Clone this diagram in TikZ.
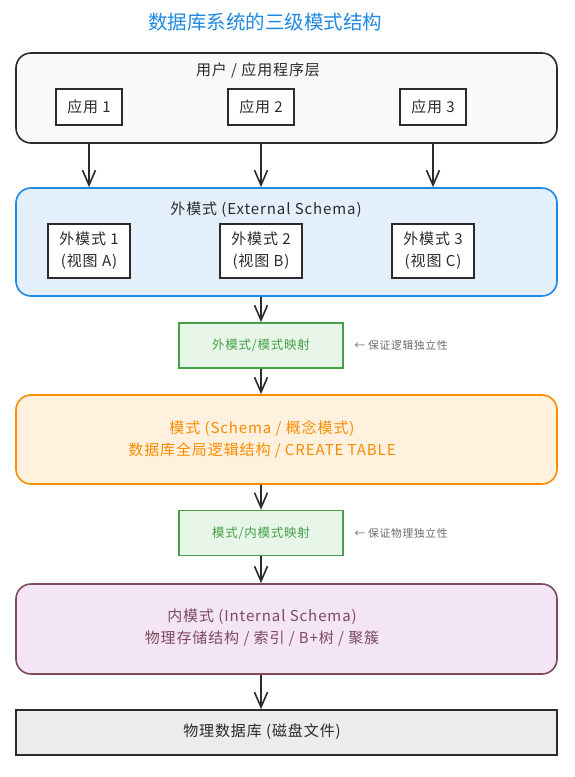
\documentclass[tikz,border=0pt]{standalone}
\usepackage{fontspec}
\setmainfont[LetterSpace=6]{Noto Sans CJK SC}
\newfontfamily\titlefont{Noto Sans CJK SC}
\usetikzlibrary{positioning}
\usetikzlibrary{arrows.meta}

\definecolor{inkdark}{HTML}{2B2B2B}
\definecolor{titleblue}{HTML}{1E88E5}
\definecolor{extblue}{HTML}{1E88E5}
\definecolor{extfill}{HTML}{E3F0FC}
\definecolor{mapgreen}{HTML}{43A047}
\definecolor{mapfill}{HTML}{E8F5E9}
\definecolor{conorange}{HTML}{FB8C00}
\definecolor{confill}{HTML}{FFF1DE}
\definecolor{intmauve}{HTML}{7D4A5E}
\definecolor{intfill}{HTML}{F3E5F5}
\definecolor{topfill}{HTML}{F8F9FA}
\definecolor{physfill}{HTML}{ECECEC}
\definecolor{notegray}{HTML}{6B6B6B}

\tikzset{
  layer/.style={draw, line width=1.6pt, rounded corners=15pt, minimum width=541pt, inner sep=0pt},
  smallbox/.style={draw=inkdark, fill=white, line width=1.6pt, inner sep=0pt, text=inkdark},
  mapbox/.style={draw=mapgreen, fill=mapfill, line width=1.6pt, minimum width=164pt, minimum height=45pt, inner sep=0pt, text=mapgreen, font=\fontsize{12.5}{15}\selectfont},
  note/.style={text=notegray, font=\fontsize{10.8}{13}\selectfont, anchor=west},
  flow/.style={draw=inkdark, line width=1.6pt, -{Straight Barb[length=15pt,width=13pt]}},
}

\begin{document}
\begin{tikzpicture}[x=1pt, y=-1pt, font=\fontsize{15}{22}\selectfont]
    \useasboundingbox (0,0) rectangle (574,777);
    % title
    \node[text=titleblue, font=\titlefont\fontsize{19.5}{24}\selectfont] (title) at (265,22) {数据库系统的三级模式结构};

    % user / application layer
    \node[layer, draw=inkdark, fill=topfill, minimum height=90pt] (user) at (286.5,98) {};
    \node[text=inkdark] (userlbl) at (258,70) {用户 / 应用程序层};
    \node[smallbox, minimum width=66pt, minimum height=36pt] (app2) at (261,107) {应用 2};
    \node[smallbox, minimum width=66pt, minimum height=36pt] (app1) at (89,107) {应用 1};
    \node[smallbox, minimum width=66pt, minimum height=36pt] (app3) at (433,107) {应用 3};

    % external schema
    \node[layer, draw=extblue, fill=extfill, minimum height=108pt] (ext) at (286.5,242) {};
    \node[text=inkdark] (extlbl) at (266,210) {外模式 (External Schema)};
    \node[smallbox, minimum width=82pt, minimum height=54pt, align=center] (view2) at (261,251) {外模式 2\\(视图 B)};
    \node[smallbox, minimum width=82pt, minimum height=54pt, align=center] (view1) at (89,251) {外模式 1\\(视图 A)};
    \node[smallbox, minimum width=82pt, minimum height=54pt, align=center] (view3) at (433,251) {外模式 3\\(视图 C)};

    % external/conceptual mapping
    \node[mapbox] (map1) at (261,345.5) {外模式/模式映射};
    \node[note, right=7pt of map1] (note1) {← 保证逻辑独立性};

    % conceptual schema
    \node[layer, draw=conorange, fill=confill, minimum height=89pt] (con) at (286.5,439.5) {};
    \node[text=conorange, align=center] (conlbl) at (262,439) {模式 (Schema / 概念模式)\\数据库全局逻辑结构 / CREATE TABLE};

    % conceptual/internal mapping
    \node[mapbox] (map2) at (261,533) {模式/内模式映射};
    \node[note, right=7pt of map2] (note2) {← 保证物理独立性};

    % internal schema
    \node[layer, draw=intmauve, fill=intfill, minimum height=90pt] (int) at (286.5,629) {};
    \node[text=intmauve, align=center] (intlbl) at (262,628) {内模式 (Internal Schema)\\物理存储结构 / 索引 / B+树 / 聚簇};

    % physical database
    \node[layer, rounded corners=0pt, draw=inkdark, fill=physfill, minimum height=45pt] (phys) at (286.5,732.5) {};
    \node[text=inkdark] (physlbl) at (262,732) {物理数据库 (磁盘文件)};

    % arrows
    \draw[flow] (app1 |- user.south) -- (app1 |- ext.north);
    \draw[flow] (app2 |- user.south) -- (app2 |- ext.north);
    \draw[flow] (app3 |- user.south) -- (app3 |- ext.north);
    \draw[flow] (map1 |- ext.south) -- (map1.north);
    \draw[flow] (map1.south) -- (map1 |- con.north);
    \draw[flow] (map2 |- con.south) -- (map2.north);
    \draw[flow] (map2.south) -- (map2 |- int.north);
    \draw[flow] (map2 |- int.south) -- (map2 |- phys.north);
\end{tikzpicture}
\end{document}
